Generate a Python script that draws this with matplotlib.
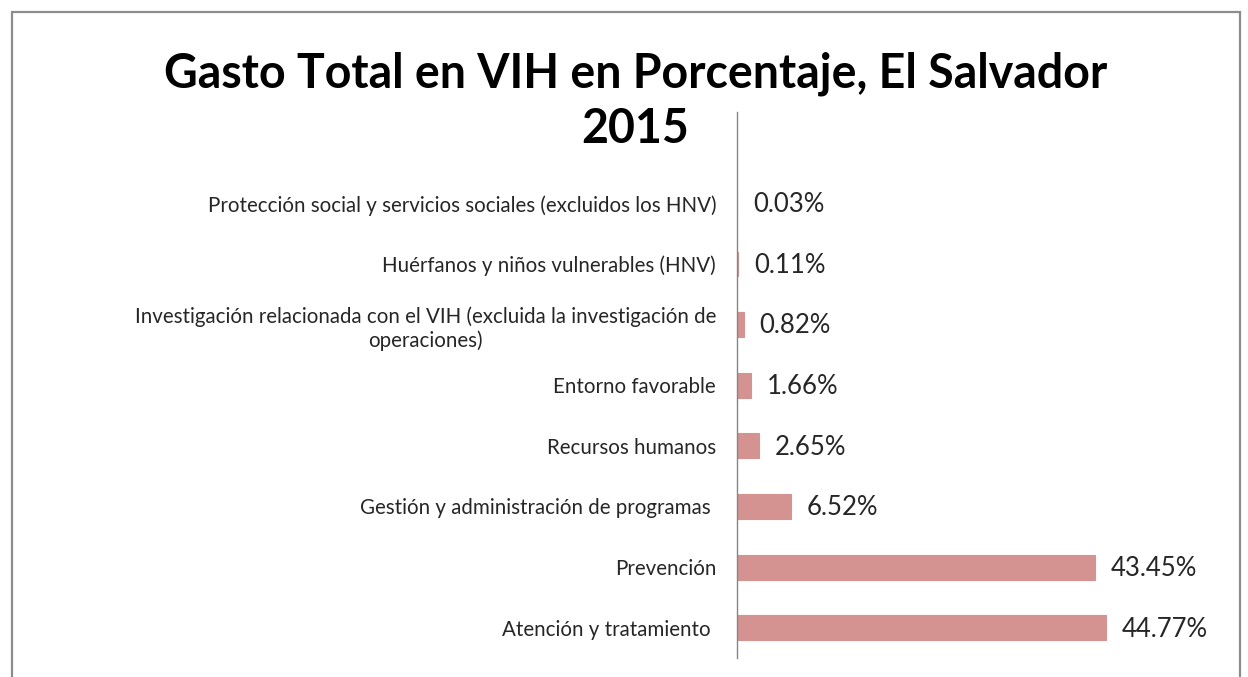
import matplotlib.pyplot as plt
from matplotlib.patches import Rectangle

plt.rcParams['font.family'] = ['Lato', 'DejaVu Sans']

# datos, de abajo hacia arriba
categorias = [
    'Atención y tratamiento ',
    'Prevención',
    'Gestión y administración de programas ',
    'Recursos humanos',
    'Entorno favorable',
    'Investigación relacionada con el VIH (excluida la investigación de\noperaciones)',
    'Huérfanos y niños vulnerables (HNV)',
    'Protección social y servicios sociales (excluidos los HNV)',
]
porcentajes = [44.77, 43.45, 6.52, 2.65, 1.66, 0.82, 0.11, 0.03]
etiquetas = ['44.77%', '43.45%', '6.52%', '2.65%', '1.66%', '0.82%', '0.11%', '0.03%']

fig = plt.figure(figsize=(12.48, 6.77), dpi=100)
ax = fig.add_axes([0.5905, 0.028, 0.396, 0.806])

pos = list(range(len(categorias)))
ax.barh(pos, porcentajes, height=0.41, color='#d49391',
        edgecolor='#d49391', linewidth=0.8)

for p, v, t in zip(pos, porcentajes, etiquetas):
    ax.annotate(t, (v, p), xytext=(11.5, -1), textcoords='offset points',
                ha='left', va='center', fontsize=18.5, color='#262626')

ax.set_yticks(pos)
ax.set_yticklabels(categorias, fontsize=14.8, color='#262626',
                   multialignment='center', linespacing=1.25)
ax.tick_params(axis='y', length=0, pad=15)
ax.set_xticks([])
ax.set_xlim(0, 60)
ax.set_ylim(-0.5, 8.5)
for s in ['top', 'right', 'bottom']:
    ax.spines[s].set_visible(False)
ax.spines['left'].set_color('#868686')
ax.spines['left'].set_linewidth(1)

fig.text(0.509, 0.851, 'Gasto Total en VIH en Porcentaje, El Salvador\n2015',
         ha='center', va='center', fontsize=33.5, fontweight='bold',
         linespacing=1.3, color='black')

# borde del grafico
fig.patches.append(Rectangle((12 / 1248, -0.1), 1228 / 1248, 1.1 - 12 / 677,
                             transform=fig.transFigure, fill=False,
                             edgecolor='#8c8c8c', linewidth=1.6))

fig.savefig('out.png', dpi=100)
